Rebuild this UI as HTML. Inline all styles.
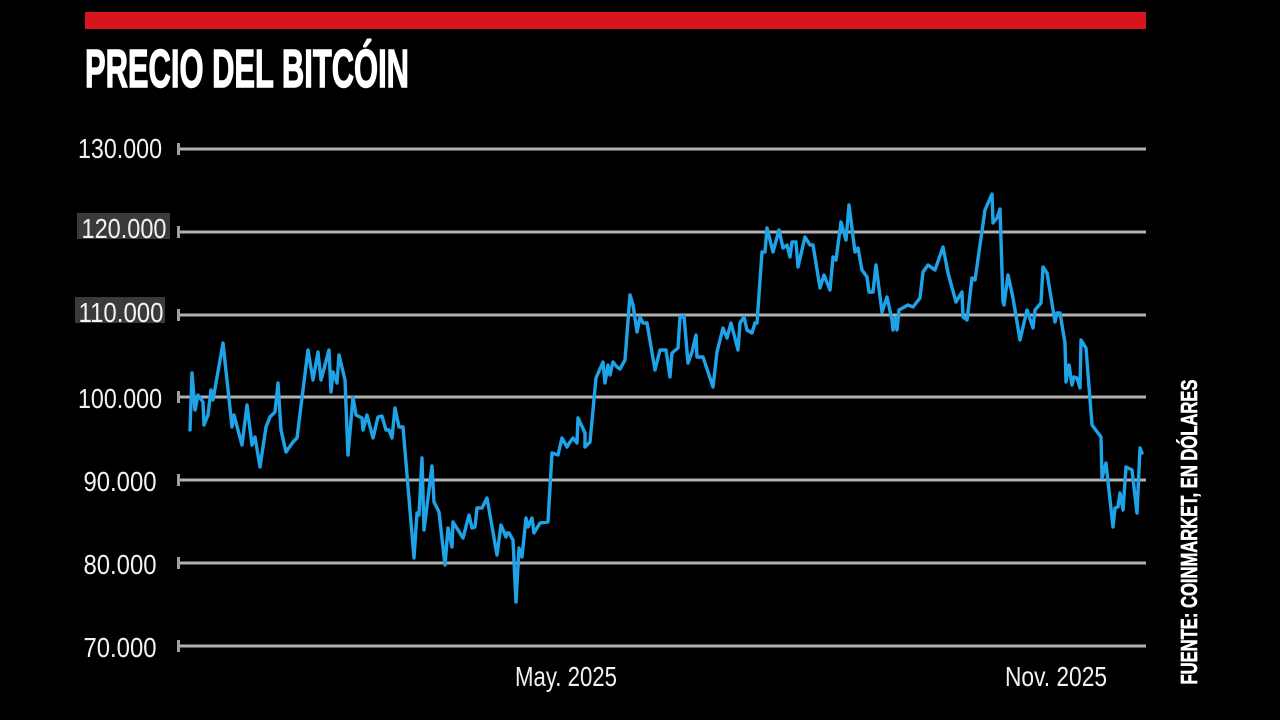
<!DOCTYPE html>
<html>
<head>
<meta charset="utf-8">
<style>
  html,body{margin:0;padding:0;background:#000;}
  body{width:1280px;height:720px;overflow:hidden;}
  svg{display:block;}
  text{font-family:"Liberation Sans",Arial,sans-serif;}
</style>
</head>
<body>
<svg width="1280" height="720" viewBox="0 0 1280 720" xmlns="http://www.w3.org/2000/svg">
  <rect x="0" y="0" width="1280" height="720" fill="#000"/>
  <!-- red bar -->
  <rect x="85" y="12" width="1061" height="17" fill="#d8141c"/>
  <!-- title -->
  <text x="85" y="87" font-size="54" font-weight="bold" fill="#fff" stroke="#fff" stroke-width="1.4" textLength="324" lengthAdjust="spacingAndGlyphs">PRECIO DEL BITCÓIN</text>

  <!-- label boxes -->
  <rect x="77" y="213" width="93" height="26" fill="#3a3a3a"/>
  <rect x="75" y="297" width="90" height="26" fill="#3a3a3a"/>

  <!-- gridlines -->
  <g stroke="#b0b0b0" stroke-width="3">
    <line x1="178" y1="149" x2="1146" y2="149"/>
    <line x1="178" y1="232" x2="1146" y2="232"/>
    <line x1="178" y1="315" x2="1146" y2="315"/>
    <line x1="178" y1="397" x2="1146" y2="397"/>
    <line x1="178" y1="480" x2="1146" y2="480"/>
    <line x1="178" y1="563" x2="1146" y2="563"/>
    <line x1="178" y1="646" x2="1146" y2="646"/>
  </g>
  <g fill="#a0a0a0">
    <rect x="177" y="143" width="3" height="12"/>
    <rect x="177" y="226" width="3" height="12"/>
    <rect x="177" y="309" width="3" height="12"/>
    <rect x="177" y="391" width="3" height="12"/>
    <rect x="177" y="474" width="3" height="12"/>
    <rect x="177" y="557" width="3" height="12"/>
    <rect x="177" y="640" width="3" height="12"/>
  </g>

  <!-- y labels -->
  <g font-size="28" fill="#f2f2f2" text-anchor="middle">
    <text x="120" y="158" textLength="84" lengthAdjust="spacingAndGlyphs">130.000</text>
    <text x="124" y="238" textLength="85" lengthAdjust="spacingAndGlyphs">120.000</text>
    <text x="121" y="322" textLength="85" lengthAdjust="spacingAndGlyphs">110.000</text>
    <text x="120" y="408" textLength="84" lengthAdjust="spacingAndGlyphs">100.000</text>
    <text x="120" y="491" textLength="73" lengthAdjust="spacingAndGlyphs">90.000</text>
    <text x="120" y="574" textLength="73" lengthAdjust="spacingAndGlyphs">80.000</text>
    <text x="120" y="657" textLength="73" lengthAdjust="spacingAndGlyphs">70.000</text>
  </g>

  <!-- x labels -->
  <g font-size="28" fill="#f2f2f2">
    <text x="515" y="686" textLength="102" lengthAdjust="spacingAndGlyphs">May. 2025</text>
    <text x="1005" y="686" textLength="102" lengthAdjust="spacingAndGlyphs">Nov. 2025</text>
  </g>

  <!-- source -->
  <text transform="translate(1197,532) rotate(-90)" x="0" y="0" text-anchor="middle" font-size="23" font-weight="bold" fill="#fff" stroke="#fff" stroke-width="0.6" textLength="305" lengthAdjust="spacingAndGlyphs">FUENTE: COINMARKET, EN DÓLARES</text>

  <!-- price line -->
  <polyline fill="none" stroke="#1ea3e8" stroke-width="3.4" stroke-linejoin="round" stroke-linecap="round" points="
190,430 192,373 195,410 198,395 203,402 204,425 208,415 211,390 213,400 216,383 223,343 232,427 234,415 242,445 247,405 252,445 255,437 260,467 266,427 270,417 275,412 278,383 281,430 286,452 293,442 297,438 308,350 313,380 318,352 321,380 329,350 331,392 333,372 337,383 339,355 345,380 348,455 353,397 356,415 362,418 363,430 367,415 373,438 378,417
382,416 386,430 389,430 392,438 395,408 399,427 403,427 414,558 417,513 419,515 422,458 424,530 432,466 434,502 439,512 445,565 448,528 452,547 453,522 463,538 469,515 472,528 475,527 477,508 482,508 487,498 497,555 501,525 506,537 507,533 509,533 513,540 516,602 519,548 522,557 526,518 528,527 532,518 534,533 540,523 548,522 552,453 558,455 562,438 567,447 570,442
573,438 577,443 578,418 585,433 585,447 590,442 596,378 603,362 605,383 608,365 610,375 613,362 617,367 620,369 625,360 630,295 633,305 637,332 640,317 643,323 647,323 655,370 660,350 666,350 670,377 672,353 678,348 680,317 684,316 688,363 692,352 696,335 697,357 703,357 713,387 717,352 723,328 727,338 731,323 738,350 740,323 744,317 747,330 752,333 755,323
757,323 762,252 765,252 767,228 773,252 779,230 783,248 787,245 790,257 792,242 796,242 798,267 805,237 810,245 813,245 820,288 824,275 830,290 833,257 836,260 841,222 846,240 849,205 855,252 858,248 862,270 867,277 869,292 873,292 876,265 882,312 887,297 892,320 893,330 895,318 897,330 899,310 908,305 913,307 920,298 923,272 928,265 935,270 943,247 948,273
956,302 962,292 963,317 967,320 972,278 975,280 985,210 992,194 993,223 997,218 1000,209 1003,302 1004,305 1008,275 1013,298 1020,340 1027,310 1033,328 1035,310 1041,303 1043,267 1047,273 1055,322 1057,313 1060,313 1065,343 1066,382 1069,365 1072,385 1074,377 1077,378 1080,388 1081,340 1086,348 1092,425 1101,437 1102,478 1106,463 1113,527 1115,508 1118,507 1120,493 1123,510 1126,467 1132,470 1137,513 1140,448 1142,453"/>
</svg>
</body>
</html>
